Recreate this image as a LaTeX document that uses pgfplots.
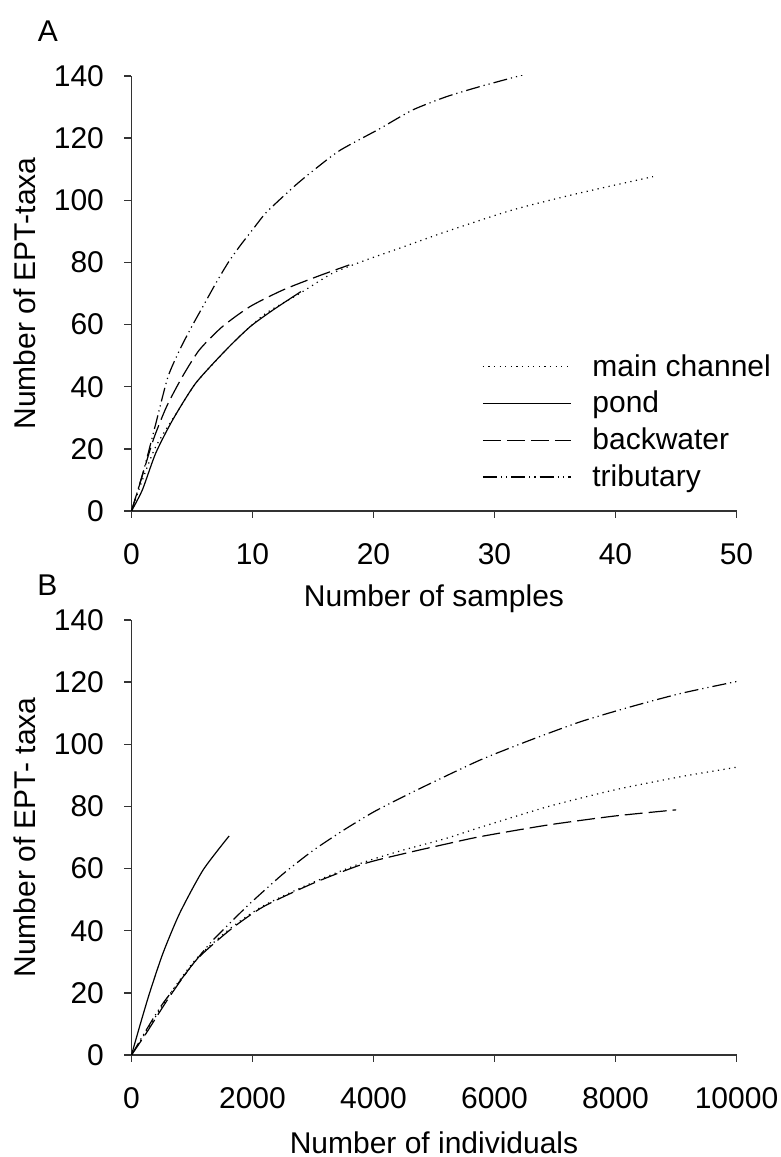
\documentclass[border=0pt]{standalone}
\usepackage{pgfplots}
\pgfplotsset{compat=1.18}
\usepackage{fontspec}
\setmainfont{Liberation Sans}

\newcommand{\bigf}{\fontsize{15}{18}\selectfont}

\pgfplotsset{
  ept/.style={
    scale only axis,
    width=302.5pt, height=217.5pt,
    axis lines*=left,
    axis line style={line width=0.7pt, black!80},
    tick align=outside,
    tick style={line width=0.7pt, black!80},
    major tick length=3.5pt,
    ymin=0, ymax=140, ytick={0,20,...,140},
    tick label style={font=\bigf},
    yticklabel style={xshift=-6.75pt},
    xticklabel style={yshift=-9pt},
    label style={font=\bigf},
    /pgf/number format/assume math mode=true,
    /pgf/number format/1000 sep={},
    scaled x ticks=false,
    xlabel style={at={(axis description cs:0.5,-0.202)}, anchor=center},
    ylabel style={at={(axis description cs:-0.176,0.5)}, anchor=center},
  },
  mc/.style={black, line width=0.6pt, dash pattern=on 0.6pt off 2.2pt},
  pd/.style={black, line width=0.6pt, solid},
  bw/.style={black, line width=0.6pt, dash pattern=on 9pt off 3pt},
  tb/.style={black, line width=0.6pt, dash pattern=on 7pt off 2pt on 0.6pt off 2pt on 0.6pt off 2pt},
}

\begin{document}
\begin{tikzpicture}
\useasboundingbox (0,0) rectangle (390.5pt,578.5pt);

\node[font=\bigf] at (24pt,563pt) {A};
\node[font=\bigf] at (23.75pt,286pt) {B};

% panel A: samples
\begin{axis}[ept,
  at={(65.75pt,323pt)}, anchor=south west,
  xmin=0, xmax=50, xtick={0,10,...,50},
  xlabel={Number of samples},
  ylabel={Number of EPT-taxa},
  legend style={draw=none, fill=none, at={(axis description cs:0.579,0.37)},
    anchor=north west, font=\bigf, inner sep=0pt, row sep=2pt, column sep=8.5pt},
  legend cell align=left,
  legend image code/.code={\draw[#1] (0pt,0pt) -- (44pt,0pt);},
]
\addplot[mc, smooth, tension=0.4] coordinates {
  (0,0) (0.9,10) (2,20.7) (3.7,31.4) (5.3,41.1) (7.3,49.7) (8.9,56.1)
  (11.1,63.6) (13.9,70) (16.6,76.5) (19.4,80.8) (22.1,84.5) (26,89.9)
  (31.5,96.9) (37,102.3) (43.1,107.6)
};
\addlegendentry{main channel}
\addplot[pd, smooth, tension=0.4] coordinates {
  (0,0) (0.9,6.8) (2,18.6) (3.4,29.3) (5.3,41.1) (7.8,51.8) (9.8,59.3)
  (11.7,64.7) (14,70.6)
};
\addlegendentry{pond}
\addplot[bw, smooth, tension=0.4] coordinates {
  (0,0) (0.7,8.9) (1.8,22.9) (2.9,33.6) (4.2,43.2) (5.6,51.8) (7.5,59.3)
  (9.8,65.8) (12.5,71.1) (15.3,75.4) (18,79.2)
};
\addlegendentry{backwater}
\addplot[tb, smooth, tension=0.4] coordinates {
  (0,0) (1,13) (2,28) (3,43) (4,52) (5,59.5) (6,66.5) (7,73.5) (8,80)
  (9,85.5) (10,90.5) (11,95.5) (12,99.3) (13.6,105) (15,109.5) (17.2,116)
  (20.5,123) (23.2,129) (26,133.3) (28.8,136.6) (32.3,140.3)
};
\addlegendentry{tributary}
\end{axis}

% panel B: individuals
\begin{axis}[ept,
  at={(65.75pt,51pt)}, anchor=south west,
  xmin=0, xmax=10000, xtick={0,2000,...,10000},
  xlabel={Number of individuals},
  ylabel={Number of EPT- taxa},
]
\addplot[mc, smooth, tension=0.4] coordinates {
  (0,0) (243,7.5) (630,19.5) (1072,31) (1625,40.6) (2177,48) (3006,55.6)
  (3835,62) (4500,66) (5200,69.7) (5770,73.3) (6876,79.9) (7980,85.3)
  (9086,89.6) (10000,92.6)
};
\addplot[pd, smooth, tension=0.4] coordinates {
  (0,0) (133,9.1) (298,19.9) (519,32.7) (796,45.6) (1182,59.5) (1614,70.5)
};
\addplot[bw, smooth, tension=0.4] coordinates {
  (0,0) (243,7) (630,18.8) (1072,30.6) (1625,40.2) (2177,47.7) (3006,55.3)
  (3835,61.5) (4500,64.8) (5200,67.9) (5770,70.3) (6876,74) (7980,76.9)
  (9003,78.9)
};
\addplot[tb, smooth, tension=0.4] coordinates {
  (0,0) (243,8) (519,16.6) (1072,30.6) (1348,37) (1790,45.6) (2000,49.5)
  (2500,58.2) (3000,65.8) (3500,72.3) (4000,78.2) (4500,83.2) (4941,87.4)
  (5770,95) (6599,101.4) (7428,107.3) (8257,112.1) (9086,116.4) (10000,120.2)
};
\end{axis}
\end{tikzpicture}
\end{document}
